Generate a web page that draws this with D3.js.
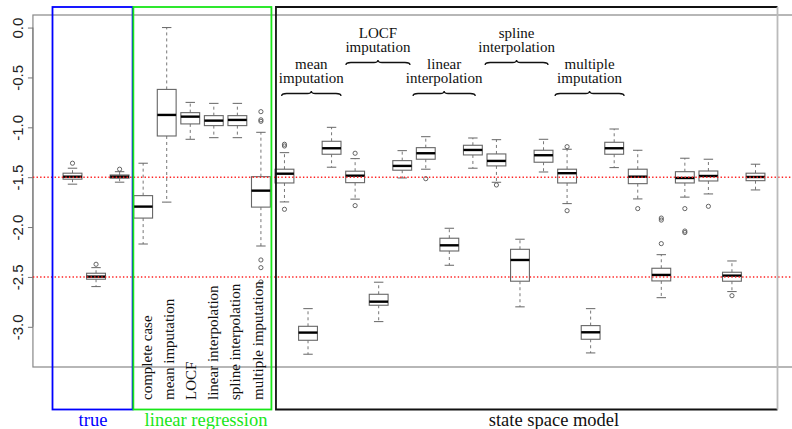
<!DOCTYPE html>
<html>
<head>
<meta charset="utf-8">
<script src="https://cdn.jsdelivr.net/npm/d3@7"></script>
<style>
  body { margin: 0; background: #fff; }
  svg { display: block; }
</style>
</head>
<body>
<div id="chart"></div>
<script>
// ---- data (30 boxes, left to right) ----
const boxIndex   = d3.range(1, 31);
const whiskerLow = [-1.57, -2.597, -1.55, -2.17, -1.75, -1.12, -1.104, -1.104, -2.19,
                    -1.748, -3.275, -1.40, -1.72, -2.948, -1.508, -1.42, -2.383, -1.41,
                    -1.551, -2.80, -1.448, -1.765, -3.262, -1.404, -1.718, -2.708, -1.70,
                    -1.668, -2.647, -1.628];
const quart1     = [-1.52, -2.523, -1.51, -1.91, -1.087, -0.966, -0.983, -0.983, -1.80,
                    -1.558, -3.135, -1.27, -1.555, -2.784, -1.43, -1.32, -2.24, -1.277,
                    -1.387, -2.543, -1.35, -1.558, -3.125, -1.27, -1.565, -2.54, -1.558,
                    -1.538, -2.543, -1.535];
const medians    = [-1.495, -2.497, -1.495, -1.795, -0.876, -0.893, -0.933, -0.926, -1.635,
                    -1.465, -3.058, -1.21, -1.485, -2.748, -1.387, -1.26, -2.183, -1.227,
                    -1.337, -2.33, -1.28, -1.46, -3.055, -1.21, -1.495, -2.48, -1.508,
                    -1.488, -2.487, -1.498];
const quart3     = [-1.46, -2.463, -1.478, -1.685, -0.62, -0.853, -0.883, -0.883, -1.495,
                    -1.42, -2.995, -1.14, -1.44, -2.674, -1.334, -1.204, -2.112, -1.18,
                    -1.267, -2.223, -1.23, -1.42, -2.988, -1.15, -1.42, -2.413, -1.445,
                    -1.438, -2.453, -1.46];
const whiskerHigh= [-1.41, -2.407, -1.445, -1.36, 0.0, -0.75, -0.76, -0.76, -1.05,
                    -1.254, -2.818, -1.0, -1.314, -2.553, -1.234, -1.094, -2.012, -1.107,
                    -1.124, -2.122, -1.12, -1.22, -2.818, -1.017, -1.23, -2.277, -1.31,
                    -1.32, -2.34, -1.37];
const outliers   = [[-1.36], [-2.373], [-1.42], [], [], [], [], [],
                    [-0.843, -0.925, -0.94, -2.33, -2.407, -2.55],
                    [-1.17, -1.187, -1.822], [], [], [-1.26, -1.785], [], [], [-1.515], [], [],
                    [-1.578], [], [], [-1.194, -1.836], [], [], [-1.815],
                    [-1.91, -1.93, -2.166], [-1.815, -2.04, -2.055], [-1.792], [-2.688], []];

const refLines   = [-1.5, -2.5];
const tickValues = [0, -0.5, -1, -1.5, -2, -2.5, -3];
const tickLabels = ["0.0", "-0.5", "-1.0", "-1.5", "-2.0", "-2.5", "-3.0"];

// rotated names of the linear regression boxes
const lrLabels = ["complete case", "mean imputation", "LOCF",
                  "linear interpolation", "spline interpolation", "multiple imputation"];

// braces over the state space model boxes (spans in box units)
const braceNames = [["mean", "imputation"], ["LOCF", "imputation"], ["linear", "interpolation"],
                    ["spline", "interpolation"], ["multiple", "imputation"]];
const braceFrom  = [9.88, 12.61, 15.46, 18.52, 21.49];
const braceTo    = [12.40, 15.33, 18.10, 21.19, 24.42];

// framed groups of boxes
const groupNames = ["true", "linear regression", "state space model"];
const groupFirst = [1, 4, 10];
const groupLast  = [3, 9, 30];

// ---- layout ----
const W = 792, H = 429;
const serif = "'Liberation Serif', 'DejaVu Serif', serif";
const sans = "'Liberation Sans', Arial, sans-serif";

const svg = d3.select("#chart").append("svg")
    .attr("width", W)
    .attr("height", H);

const x = d3.scaleLinear().domain([1, 30]).range([72.5, 755.5]);
const y = d3.scaleLinear().domain([-3.403, 0.126]).range([367, 15]);
const step = x(2) - x(1);
const bw = 0.8 * step;

// plot frame (runs off the right edge like the original)
const left = x(-0.68);
svg.append("rect")
    .attr("x", left).attr("y", y(0.126))
    .attr("width", 820 - left).attr("height", y(-3.403) - y(0.126))
    .attr("fill", "none").attr("stroke", "#888").attr("stroke-width", 1.2);

// y axis
const axis = svg.append("g")
    .attr("transform", `translate(${left},0)`)
    .call(d3.axisLeft(y).tickValues(tickValues).tickFormat((d, i) => tickLabels[i]).tickSize(5));
axis.select(".domain").remove();
axis.selectAll("line").attr("stroke", "#777");
axis.selectAll("text")
    .attr("x", null).attr("dy", null)
    .attr("transform", "translate(-10,0) rotate(-90)")
    .attr("text-anchor", "middle")
    .attr("fill", "#222")
    .style("font-family", sans)
    .style("font-size", "15px");
svg.append("line")
    .attr("x1", left).attr("x2", left)
    .attr("y1", y(0)).attr("y2", y(-3))
    .attr("stroke", "#777");

// boxplots
const boxes = boxIndex.map((b, i) => ({
    b, lo: whiskerLow[i], q1: quart1[i], med: medians[i], q3: quart3[i],
    hi: whiskerHigh[i], out: outliers[i]
}));

const bg = svg.append("g");
const box = bg.selectAll("g.box").data(boxes).join("g").attr("class", "box");

box.append("line")
    .attr("x1", d => x(d.b)).attr("x2", d => x(d.b))
    .attr("y1", d => y(d.q3)).attr("y2", d => y(d.hi))
    .attr("stroke", "#777").attr("stroke-dasharray", "3,3");
box.append("line")
    .attr("x1", d => x(d.b)).attr("x2", d => x(d.b))
    .attr("y1", d => y(d.q1)).attr("y2", d => y(d.lo))
    .attr("stroke", "#777").attr("stroke-dasharray", "3,3");
box.selectAll("line.cap").data(d => [[d.b, d.hi], [d.b, d.lo]]).join("line")
    .attr("class", "cap")
    .attr("x1", d => x(d[0]) - bw / 4).attr("x2", d => x(d[0]) + bw / 4)
    .attr("y1", d => y(d[1])).attr("y2", d => y(d[1]))
    .attr("stroke", "#666");
box.append("rect")
    .attr("x", d => x(d.b) - bw / 2).attr("width", bw)
    .attr("y", d => y(d.q3)).attr("height", d => y(d.q1) - y(d.q3))
    .attr("fill", "#fff").attr("stroke", "#666").attr("stroke-width", 1.1);
box.append("line")
    .attr("x1", d => x(d.b) - bw / 2).attr("x2", d => x(d.b) + bw / 2)
    .attr("y1", d => y(d.med)).attr("y2", d => y(d.med))
    .attr("stroke", "#000").attr("stroke-width", 2.4);
box.selectAll("circle").data(d => d.out.map(v => [d.b, v])).join("circle")
    .attr("cx", d => x(d[0])).attr("cy", d => y(d[1]))
    .attr("r", 2.1)
    .attr("fill", "none").attr("stroke", "#555").attr("stroke-width", 0.9);

// red reference lines, on top of the boxes
svg.selectAll("line.ref").data(refLines).join("line")
    .attr("class", "ref")
    .attr("x1", left).attr("x2", W)
    .attr("y1", d => y(d)).attr("y2", d => y(d))
    .attr("stroke", "#f22").attr("stroke-width", 1.4)
    .attr("stroke-dasharray", "1.4,2.2");

// rotated names under the linear regression boxes
svg.selectAll("text.lr").data(lrLabels).join("text")
    .attr("class", "lr")
    .attr("transform", (d, i) => `translate(${x(4.38 + 0.938 * i)},400) rotate(-90)`)
    .attr("text-anchor", "start")
    .attr("fill", "#111")
    .style("font-family", serif)
    .style("font-size", "15px")
    .text(d => d);

// group frames
const groupColors = ["#0000ff", "#19e619", "#000"];
const padL = [20, 9.8, 8.5];
const padR = [13, 10.5, 22];
groupNames.forEach((name, i) => {
    const x0 = x(groupFirst[i]) - padL[i];
    const x1 = x(groupLast[i]) + padR[i];
    const y0 = 7, y1 = 409.5;
    if (i < 2) {
        svg.append("rect")
            .attr("x", x0).attr("y", y0)
            .attr("width", x1 - x0).attr("height", y1 - y0)
            .attr("fill", "none").attr("stroke", groupColors[i]).attr("stroke-width", 1.8);
    } else {
        svg.append("path")
            .attr("d", `M${x1},${y0}H${x0}V${y1}H${x1}`)
            .attr("fill", "none").attr("stroke", "#111").attr("stroke-width", 1.8);
        svg.append("line")
            .attr("x1", x1).attr("x2", x1).attr("y1", y0).attr("y2", y1)
            .attr("stroke", "#bbb").attr("stroke-width", 1.8);
    }
});

const labelCenters = [93, 206, 554];
svg.selectAll("text.group").data(groupNames).join("text")
    .attr("class", "group")
    .attr("x", (d, i) => labelCenters[i])
    .attr("y", 426)
    .attr("text-anchor", "middle")
    .attr("fill", (d, i) => i === 2 ? "#111" : groupColors[i])
    .style("font-family", serif)
    .style("font-size", "18.5px")
    .text(d => d);

// curly braces with their two-line titles
function bracePath(x0, x1, yb) {
    const xc = (x0 + x1) / 2, ym = yb - 2.5, yt = yb - 5;
    return `M${x0},${yb} Q${x0},${ym} ${x0 + 5},${ym} L${xc - 4},${ym} Q${xc},${ym} ${xc},${yt}` +
           ` Q${xc},${ym} ${xc + 4},${ym} L${x1 - 5},${ym} Q${x1},${ym} ${x1},${yb}`;
}
braceNames.forEach((lines, i) => {
    const upper = i % 2 === 1;
    const yb = upper ? 65 : 96;
    const x0 = x(braceFrom[i]), x1 = x(braceTo[i]);
    svg.append("path")
        .attr("d", bracePath(x0, x1, yb))
        .attr("fill", "none").attr("stroke", "#111").attr("stroke-width", 1.3);
    const title = svg.append("text")
        .attr("x", (x0 + x1) / 2)
        .attr("y", yb - 27.5)
        .attr("text-anchor", "middle")
        .attr("fill", "#111")
        .style("font-family", serif)
        .style("font-size", "15px");
    lines.forEach((t, k) => {
        title.append("tspan")
            .attr("x", (x0 + x1) / 2)
            .attr("dy", k === 0 ? 0 : 14)
            .text(t);
    });
});
</script>
</body>
</html>
